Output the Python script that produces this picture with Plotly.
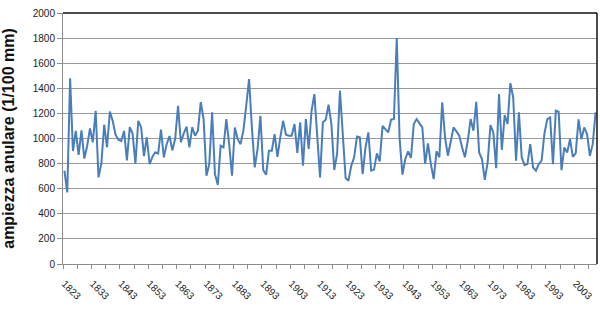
import plotly.graph_objects as go

first_year = 1823
values = [
    743, 570, 1480, 900, 1060, 870, 1065, 840, 940, 1080,
    970, 1220, 690, 800, 1110, 930, 1215, 1140, 1030, 990,
    980, 1060, 825, 1090, 1040, 800, 1140, 1090, 860, 1010,
    795, 855, 890, 880, 1070, 850, 955, 1020, 905, 1000,
    1260, 970, 1040, 1095, 930, 1090, 1022, 1062, 1290, 1155,
    703, 796, 1208, 716, 631, 942, 929, 1155, 955, 703,
    1088, 995, 955, 1062, 1261, 1473, 1088, 770, 916, 1181,
    748, 711, 902, 902, 1035, 854, 1009, 1141, 1030, 1022,
    1022, 1115, 886, 1128, 783, 1155, 916, 1221, 1354, 1009,
    690, 1130, 1150, 1270, 1115, 749, 877, 1381, 1036, 685,
    664, 784, 850, 1015, 1009, 717, 930, 1049, 744, 752,
    882, 818, 1100, 1076, 1049, 1150, 1155, 1800, 1000, 712,
    837, 898, 845, 1116, 1155, 1121, 1089, 797, 962, 797,
    677, 898, 850, 1288, 1009, 863, 983, 1089, 1057, 1023,
    930, 850, 982, 1155, 1062, 1293, 889, 836, 671, 809,
    1107, 1048, 764, 1354, 910, 1186, 1115, 1441, 1327, 823,
    1208, 849, 788, 796, 955, 769, 743, 796, 823, 1040,
    1155, 1168, 796, 1221, 1213, 748, 929, 889, 995, 854,
    881, 1152, 995, 1088, 1035, 862, 955, 1208,
]
years = [first_year + i for i in range(len(values))]
tick_years = list(range(1823, 2004, 10))
tick_labels = [str(y) for y in tick_years]
y_ticks = list(range(0, 2001, 200))
y_title = "ampiezza anulare (1/100 mm)"

fig = go.Figure()
fig.add_trace(go.Scatter(
    x=years, y=values, mode="lines",
    line=dict(color="#4a7ebb", width=2),
    hoverinfo="x+y", showlegend=False,
))

fig.update_layout(
    width=600, height=313,
    margin=dict(l=63, r=3, t=13, b=49),
    paper_bgcolor="white", plot_bgcolor="white",
    font=dict(family="Arial, Liberation Sans, sans-serif", color="#222"),
    xaxis=dict(
        range=[years[0] - 0.5, years[-1] + 0.5],
        tickmode="array", tickvals=tick_years, ticktext=tick_labels,
        tickangle=45, ticks="", showgrid=False, zeroline=False,
        showline=True, linecolor="#8c8c8c", linewidth=1,
        tickfont=dict(size=10, color="#222"),
        ticklabelstandoff=9,
        minor=dict(ticks="outside", tick0=years[0] - 0.5, dtick=5,
                   ticklen=4, tickcolor="#8c8c8c", showgrid=False),
    ),
    yaxis=dict(
        range=[0, 2000], tickmode="array", tickvals=y_ticks,
        ticks="outside", ticklen=5, tickcolor="#8c8c8c",
        showgrid=True, gridcolor="#9a9a9a", gridwidth=1, zeroline=False,
        showline=True, linecolor="#8c8c8c", linewidth=1,
        tickfont=dict(size=10, color="#222"),
        title=dict(text="<b>" + y_title + "</b>",
                   font=dict(size=16, color="#111")),
    ),
    shapes=[
        dict(type="line", xref="paper", yref="paper", x0=0, x1=1, y0=1, y1=1,
             line=dict(color="#111", width=1.5)),
        dict(type="line", xref="paper", yref="paper", x0=1, x1=1, y0=0, y1=1,
             line=dict(color="#111", width=1.5)),
    ],
)

fig.write_html("out.html")
